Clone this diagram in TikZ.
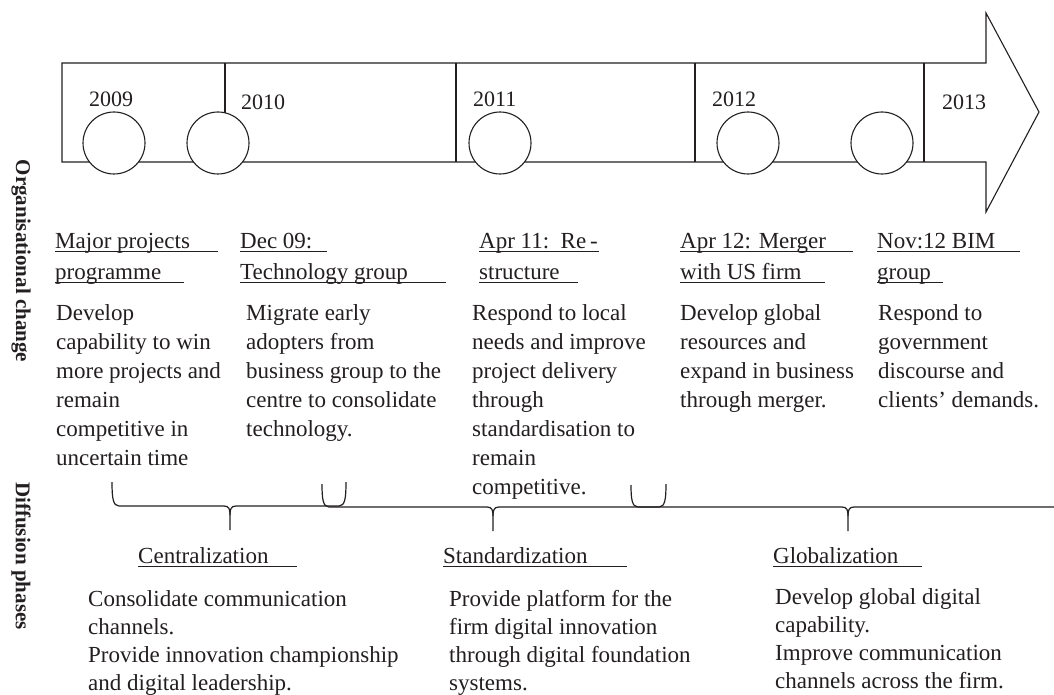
\documentclass[tikz,border=0pt]{standalone}
\usepackage{fontspec}
\setmainfont{Liberation Serif}
\definecolor{ink}{HTML}{231F20}
\newcommand\st{\rule{0pt}{18pt}}
\newcommand\ulx[2]{\rlap{\rule[-3.7pt]{#2pt}{1.4pt}}#1}
\newcommand\Brc[5]{%
  \draw[brc] (#1,#4) .. controls (#1,#5-8) and (#1+1,#5) .. (#1+7,#5) -- (#2-6,#5)
     .. controls (#2-1,#5) and (#2,#5+3) .. (#2,#5+9) -- (#2,#5+24);
  \draw[brc] (#2,#5+9) .. controls (#2,#5+3) and (#2+1,#5) .. (#2+6,#5) -- (#3-7,#5)
     .. controls (#3-1,#5) and (#3,#5-8) .. (#3,#4);}
\tikzset{
  outl/.style={draw=ink, line width=1.1pt, line join=miter},
  divl/.style={draw=ink, line width=1.1pt},
  divthick/.style={draw=ink, line width=1.8pt},
  wheel/.style={circle, draw=ink, fill=white, line width=1.1pt, minimum size=62pt, inner sep=0pt},
  yr/.style={anchor=west, inner sep=0pt, text=ink, font=\fontsize{22}{26}\selectfont},
  ttl/.style={anchor=north west, inner sep=0pt, align=left, text=ink, font=\fontsize{23}{31}\selectfont},
  bdy/.style={anchor=north west, inner sep=0pt, align=left, text=ink, font=\fontsize{23}{29}\selectfont},
  pbdy/.style={anchor=north west, inner sep=0pt, align=left, text=ink, font=\fontsize{23}{28}\selectfont},
  side/.style={rotate=-90, inner sep=0pt, text=ink, font=\fontsize{21}{24}\selectfont\bfseries},
  brc/.style={draw=ink, line width=1.2pt}
}
\begin{document}
\begin{tikzpicture}[x=1pt, y=-1pt]
\useasboundingbox (0,0) rectangle (1054,695);
\fill[white] (0,0) rectangle (1054,695);
% timeline arrow
\draw[outl] (62,63) -- (986,63) -- (986,13) -- (1039,112) -- (986,212) -- (986,162) -- (62,162) -- cycle;
\draw[divl] (225,63) -- (225,162);
\draw[divthick] (456,63) -- (456,162);
\draw[divl] (695,63) -- (695,162);
\draw[divthick] (924,63) -- (924,162);
% milestones
\node[wheel] (m1) at (114,143) {};
\node[wheel] (m2) at (218,143) {};
\node[wheel] (m3) at (500,143) {};
\node[wheel] (m4) at (748,143) {};
\node[wheel] (m5) at (882,143) {};
% years
\node[yr] (y1) at (89,99) {2009};
\node[yr] (y2) at (241,102) {2010};
\node[yr] (y3) at (473,99) {2011};
\node[yr] (y4) at (712,99) {2012};
\node[yr] (y5) at (942,102) {2013};
% side labels
\node[side] (s1) at (21,261) {Organisational change};
\node[side] (s2) at (21,556) {Diffusion phases};
% events
\node[ttl] (t1) at (55,230) {\st\ulx{Major projects}{163}\\\ulx{programme}{129}};
\node[bdy] (b1) at (56,302) {\st Develop\\capability to win\\more projects and\\remain\\competitive in\\uncertain time};
\node[ttl] (t2) at (240,230) {\st\ulx{Dec 09:}{87}\\\ulx{Technology group}{206}};
\node[bdy] (b2) at (246,302) {\st Migrate early\\adopters from\\business group to the\\centre to consolidate\\technology.};
\node[ttl] (t3) at (479,230) {\st\ulx{Apr 11:\ \ Re\,-}{120}\\\ulx{structure}{99}};
\node[bdy] (b3) at (472,302) {\st Respond to local\\needs and improve\\project delivery\\through\\standardisation to\\remain\\competitive.};
\node[ttl] (t4) at (680,230) {\st\ulx{Apr 12: Merger}{173}\\\ulx{with US firm}{145}};
\node[bdy] (b4) at (680,302) {\st Develop global\\resources and\\expand in business\\through merger.};
\node[ttl] (t5) at (877,230) {\st\ulx{Nov:12 BIM}{143}\\\ulx{group}{66}};
\node[bdy] (b5) at (878,302) {\st Respond to\\government\\discourse and\\clients’ demands.};
% braces
\Brc{112}{230}{346}{482}{506}
\Brc{322}{493}{666}{484}{507}
\draw[brc] (631,485) .. controls (631,499) and (632,507) .. (638,507) -- (842,507)
   .. controls (847,507) and (848,510) .. (848,516) -- (848,531);
\draw[brc] (848,516) .. controls (848,510) and (849,507) .. (854,507) -- (1054,507);
% phases
\node[ttl] (p1) at (138,545) {\st\ulx{Centralization}{159}};
\node[pbdy] (q1) at (88,588) {\st Consolidate communication\\channels.\\Provide innovation championship\\and digital leadership.};
\node[ttl] (p2) at (443,545) {\st\ulx{Standardization}{184}};
\node[pbdy] (q2) at (449,588) {\st Provide platform for the\\firm digital innovation\\through digital foundation\\systems.};
\node[ttl] (p3) at (773,545) {\st\ulx{Globalization}{149}};
\node[pbdy] (q3) at (775,586) {\st Develop global digital\\capability.\\Improve communication\\channels across the firm.};
\end{tikzpicture}
\end{document}
